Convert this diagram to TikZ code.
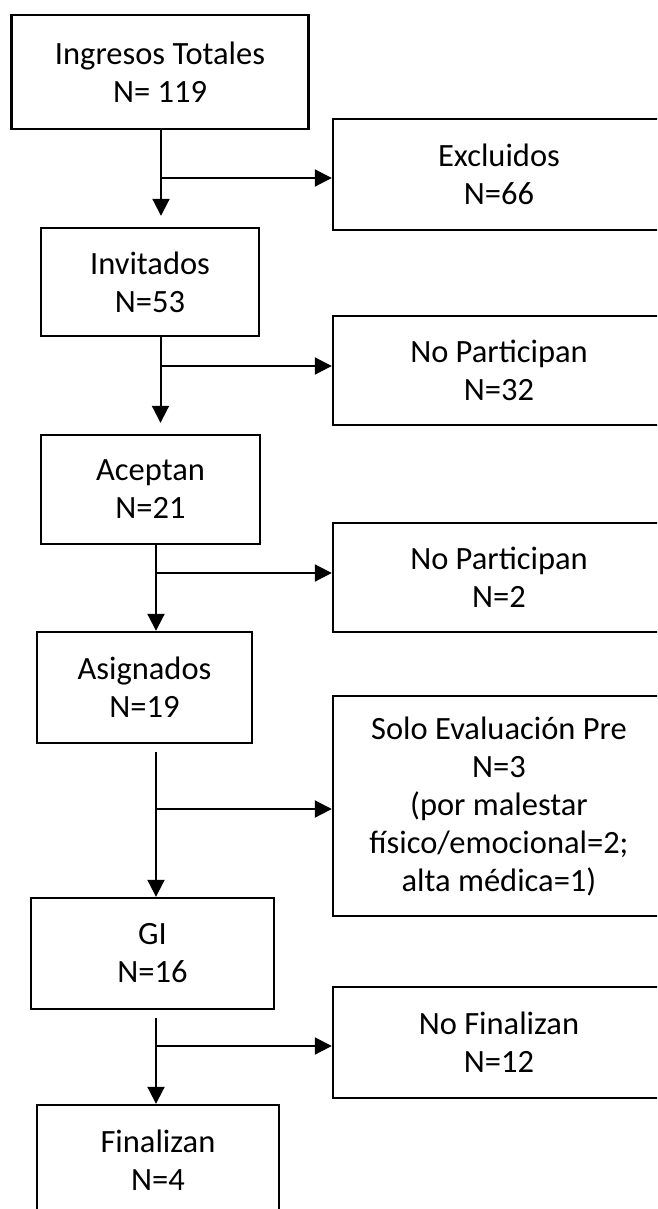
\documentclass[tikz,border=0pt]{standalone}
\usepackage{fontspec}
\setmainfont{Carlito}
\usetikzlibrary{arrows.meta}

\begin{document}
\begin{tikzpicture}[x=1pt, y=-1pt,
  box/.style={draw, line width=2.4pt, align=center, inner sep=0pt,
              font=\fontsize{32.5}{38}\selectfont, minimum height=110pt},
  side/.style={box, minimum width=332pt},
  arr/.style={-{Triangle[length=17pt,width=17pt]}, line width=2pt}]
\clip (0,0) rectangle (657,1209);
\node[box, minimum width=297pt, minimum height=114pt] (ing) at (160,72) {Ingresos Totales\\N= 119};
\node[side, minimum height=111pt] (exc) at (499,174.5) {Excluidos\\N=66};
\node[box, minimum width=218pt, minimum height=108pt] (inv) at (150,282) {Invitados\\N=53};
\node[side, minimum height=109pt] (np1) at (499,370.5) {No Participan\\N=32};
\node[box, minimum width=219pt, minimum height=109pt] (acep) at (150.5,489.5) {Aceptan\\N=21};
\node[side, minimum height=109pt] (np2) at (499,577.5) {No Participan\\N=2};
\node[box, minimum width=215pt, minimum height=111pt] (asig) at (144.5,687.5) {Asignados\\N=19};
\node[side, minimum height=220pt] (solo) at (499,806) {Solo Evaluación Pre\\N=3\\(por malestar\\físico/emocional=2;\\alta médica=1)};
\node[box, minimum width=243pt, minimum height=111pt] (gi) at (152.5,953.5) {GI\\N=16};
\node[side, minimum height=111pt] (nf) at (499,1042.5) {No Finalizan\\N=12};
\node[box, minimum width=242pt, minimum height=110pt] (fin) at (158,1160) {Finalizan\\N=4};
% branch points
\coordinate (j1) at (161,178);
\coordinate (j2) at (160.5,366);
\coordinate (j3) at (156,573);
\coordinate (j4) at (156,809);
\coordinate (j5) at (156,1046);
\draw[arr, shorten >=11pt] (j1 |- ing.south) -- (j1 |- inv.north);
\draw[arr] (j1) -- (j1 -| exc.west);
\draw[arr, shorten >=11pt] (j2 |- inv.south) -- (j2 |- acep.north);
\draw[arr] (j2) -- (j2 -| np1.west);
\draw[arr] (j3 |- acep.south) -- (j3 |- asig.north);
\draw[arr] (j3) -- (j3 -| np2.west);
\draw[arr, shorten <=8pt] (j4 |- asig.south) -- (j4 |- gi.north);
\draw[arr] (j4) -- (j4 -| solo.west);
\draw[arr, shorten <=8pt] (j5 |- gi.south) -- (j5 |- fin.north);
\draw[arr] (j5) -- (j5 -| nf.west);
\end{tikzpicture}
\end{document}
